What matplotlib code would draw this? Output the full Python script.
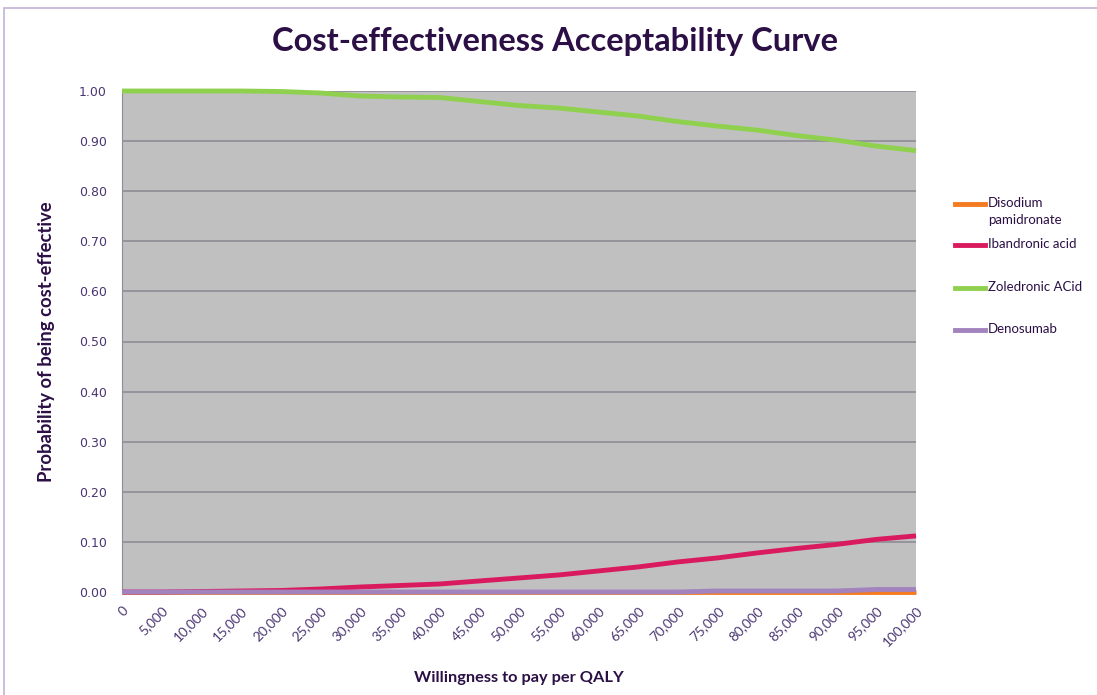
import matplotlib.pyplot as plt
from matplotlib.patches import Rectangle
from matplotlib.lines import Line2D

# willingness to pay thresholds (per QALY)
wtp = [0, 5000, 10000, 15000, 20000, 25000, 30000, 35000, 40000, 45000, 50000,
       55000, 60000, 65000, 70000, 75000, 80000, 85000, 90000, 95000, 100000]

# probability of being cost-effective at each threshold
disodium = [0.0] * 21
ibandronic = [0.0, 0.0, 0.001, 0.002, 0.003, 0.006, 0.010, 0.013, 0.016, 0.022, 0.028,
              0.034, 0.042, 0.050, 0.060, 0.068, 0.078, 0.087, 0.095, 0.105, 0.112]
zoledronic = [1.0, 1.0, 1.0, 1.0, 0.999, 0.996, 0.990, 0.988, 0.987, 0.979, 0.971,
              0.966, 0.958, 0.950, 0.939, 0.930, 0.922, 0.911, 0.902, 0.890, 0.881]
denosumab = [0.0, 0.0, 0.0, 0.0, 0.0, 0.0, 0.0, 0.0, 0.0, 0.0, 0.0,
             0.0, 0.0, 0.0, 0.0, 0.002, 0.002, 0.002, 0.002, 0.005, 0.005]

names = ["Disodium\npamidronate", "Ibandronic acid", "Zoledronic ACid", "Denosumab"]
colors = ["#F47B20", "#DA1A5E", "#8FD14F", "#A283BE"]

ink = "#2B0F45"
tick_col = "#4A3672"

W, H = 1097, 695
fig = plt.figure(figsize=(W / 100, H / 100), dpi=100)
fig.patches.append(Rectangle((4 / W, -0.05), 1.1, 1 - 8 / H + 0.05,
                             transform=fig.transFigure, fill=False,
                             edgecolor="#C4B2D6", lw=1.2))

ax = fig.add_axes([122 / W, 1 - 592 / H, (916 - 122) / W, (592 - 91) / H])
ax.set_facecolor("#C0C0C0")

for y, c in zip([disodium, ibandronic, zoledronic, denosumab], colors):
    ax.plot(wtp, y, color=c, lw=3.5, clip_on=False, zorder=3,
            solid_capstyle="butt")

ax.set_xlim(0, 100000)
ax.set_ylim(0, 1.0)
ax.set_yticks([i / 10 for i in range(11)])
ax.set_yticklabels([f"{i / 10:.2f}" for i in range(11)], fontsize=9,
                   color=tick_col, family="DejaVu Sans")
ax.set_xticks(wtp)
ax.set_xticklabels([f"{v:,}" for v in wtp], rotation=45, ha="right",
                   rotation_mode="anchor", fontsize=9.8, color=tick_col, family="Lato")
ax.tick_params(axis="y", length=0, pad=11)
ax.tick_params(axis="x", length=0, pad=9)
ax.grid(axis="y", color="#8E8C96", lw=1.2)
ax.set_axisbelow(True)
for s in ["top", "right", "bottom"]:
    ax.spines[s].set_visible(False)
ax.spines["left"].set_color("#8E8C96")

ax.set_xlabel("Willingness to pay per QALY", fontsize=11.8, fontweight="bold",
              color=ink, family="Lato", labelpad=16)
ax.set_ylabel("Probability of being cost-effective", fontsize=13.3, fontweight="bold",
              color=ink, family="Lato", labelpad=17)

fig.text(555 / W, 1 - 42 / H, "Cost-effectiveness Acceptability Curve",
         ha="center", va="center", fontsize=23.5, fontweight="bold", color=ink,
         family="Lato")

# legend keys on the right, first text line aligned with its key
legend_y = [204, 245, 288, 330]
for n, c, yy in zip(names, colors, legend_y):
    fig.add_artist(Line2D([955 / W, 985 / W], [1 - yy / H, 1 - yy / H],
                          color=c, lw=3.5, transform=fig.transFigure))
    fig.text(988 / W, 1 - (yy - 7) / H, n, ha="left", va="top", fontsize=9.5,
             color=ink, family="Lato", linespacing=1.45)

fig.savefig("out.png", dpi=100)
